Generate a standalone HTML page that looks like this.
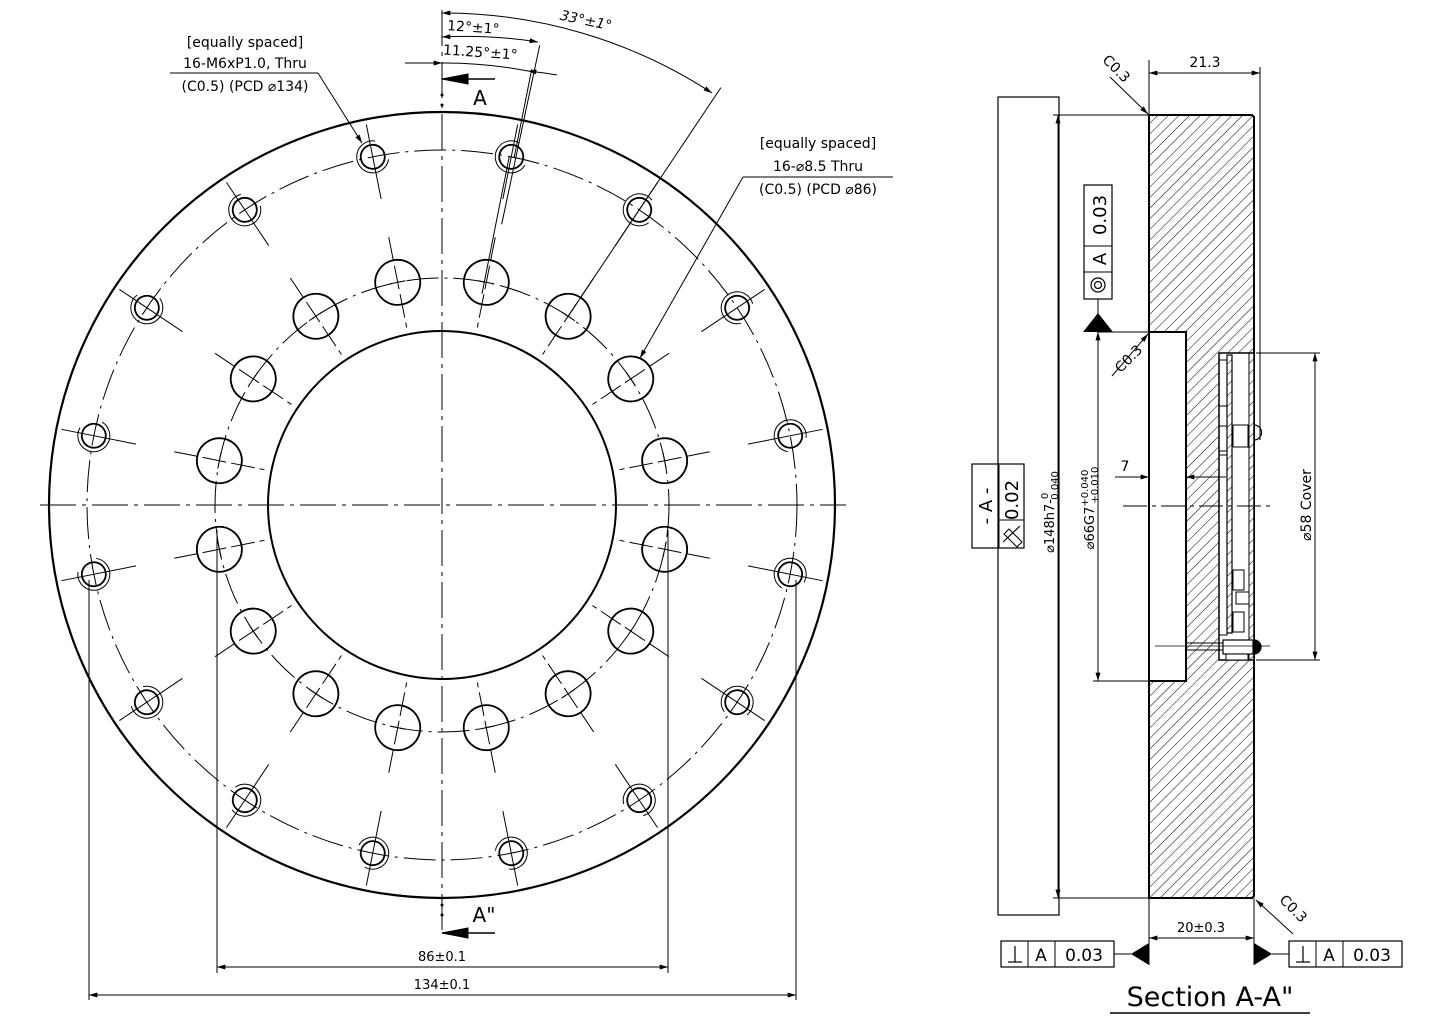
<!DOCTYPE html>
<html><head><meta charset="utf-8"><style>
html,body{margin:0;padding:0;background:#fff}
svg{display:block}
text{font-family:"DejaVu Sans","Liberation Sans",sans-serif;fill:#000}
</style></head><body>
<svg width="1437" height="1019" viewBox="0 0 1437 1019" xmlns="http://www.w3.org/2000/svg">
<defs>
<pattern id="h" patternUnits="userSpaceOnUse" width="7.5" height="7.5" patternTransform="rotate(45)">
<line x1="0" y1="0" x2="0" y2="7.5" stroke="#000" stroke-width="1"/>
</pattern>
<marker id="ar" viewBox="0 0 10 6" refX="10" refY="3" markerWidth="14" markerHeight="5" markerUnits="userSpaceOnUse" orient="auto-start-reverse"><path d="M0,0 L10,3 L0,6z" fill="#000"/></marker>
<g id="sh">
<circle cx="442" cy="150" r="12" fill="none" stroke="#000" stroke-width="1.8"/>
<circle cx="442" cy="150" r="16" fill="none" stroke="#000" stroke-width="1" stroke-dasharray="75 25.5" transform="rotate(20 442 150)"/>
<line x1="442" y1="117" x2="442" y2="193" stroke="#000" stroke-width="1"/>
</g>
<g id="bh">
<circle cx="442" cy="278" r="22.5" fill="none" stroke="#000" stroke-width="1.8"/>
<line x1="442" y1="232" x2="442" y2="324" stroke="#000" stroke-width="1" stroke-dasharray="24 5"/>
<line x1="434" y1="278" x2="450" y2="278" stroke="#000" stroke-width="1"/>
</g>
</defs>

<!-- ===== FRONT VIEW ===== -->
<g fill="none" stroke="#000">
<circle cx="442" cy="505" r="393" stroke-width="2.2"/>
<circle cx="442" cy="505" r="174" stroke-width="2"/>
<circle cx="442" cy="505" r="355" stroke-width="1" stroke-dasharray="32 6 3 6"/>
<circle cx="442" cy="505" r="227" stroke-width="1" stroke-dasharray="32 6 3 6"/>
<line x1="40" y1="505" x2="846" y2="505" stroke-width="1" stroke-dasharray="36 6 4 6"/>
<line x1="442" y1="10" x2="442" y2="930" stroke-width="1" stroke-dasharray="36 6 4 6"/>
</g>
<g>
<use href="#sh" transform="rotate(11.25 442 505)"/><use href="#sh" transform="rotate(33.75 442 505)"/>
<use href="#sh" transform="rotate(56.25 442 505)"/><use href="#sh" transform="rotate(78.75 442 505)"/>
<use href="#sh" transform="rotate(101.25 442 505)"/><use href="#sh" transform="rotate(123.75 442 505)"/>
<use href="#sh" transform="rotate(146.25 442 505)"/><use href="#sh" transform="rotate(168.75 442 505)"/>
<use href="#sh" transform="rotate(191.25 442 505)"/><use href="#sh" transform="rotate(213.75 442 505)"/>
<use href="#sh" transform="rotate(236.25 442 505)"/><use href="#sh" transform="rotate(258.75 442 505)"/>
<use href="#sh" transform="rotate(281.25 442 505)"/><use href="#sh" transform="rotate(303.75 442 505)"/>
<use href="#sh" transform="rotate(326.25 442 505)"/><use href="#sh" transform="rotate(348.75 442 505)"/>
<use href="#bh" transform="rotate(11.25 442 505)"/><use href="#bh" transform="rotate(33.75 442 505)"/>
<use href="#bh" transform="rotate(56.25 442 505)"/><use href="#bh" transform="rotate(78.75 442 505)"/>
<use href="#bh" transform="rotate(101.25 442 505)"/><use href="#bh" transform="rotate(123.75 442 505)"/>
<use href="#bh" transform="rotate(146.25 442 505)"/><use href="#bh" transform="rotate(168.75 442 505)"/>
<use href="#bh" transform="rotate(191.25 442 505)"/><use href="#bh" transform="rotate(213.75 442 505)"/>
<use href="#bh" transform="rotate(236.25 442 505)"/><use href="#bh" transform="rotate(258.75 442 505)"/>
<use href="#bh" transform="rotate(281.25 442 505)"/><use href="#bh" transform="rotate(303.75 442 505)"/>
<use href="#bh" transform="rotate(326.25 442 505)"/><use href="#bh" transform="rotate(348.75 442 505)"/>
</g>

<g stroke="#000" stroke-width="1" fill="none">
<line transform="rotate(12 442 505)" x1="442" y1="218" x2="442" y2="35"/>
<line transform="rotate(11.25 442 505)" x1="445" y1="150" x2="445" y2="60"/>
<line transform="rotate(11.25 442 505)" x1="440" y1="290" x2="440" y2="150"/>
<line transform="rotate(33.75 442 505)" x1="442" y1="280" x2="442" y2="3"/>
<path d="M442,13 A492,492 0 0 1 712,93" marker-start="url(#ar)" marker-end="url(#ar)"/>
<path d="M442,37 A468,468 0 0 1 538,42" marker-start="url(#ar)" marker-end="url(#ar)"/>
<path d="M405,63 L442,63" marker-end="url(#ar)"/>
<path d="M557,75 A442,442 0 0 0 528,71" marker-end="url(#ar)"/>
<path d="M442,63 A442,442 0 0 1 528,71"/>
<line x1="442" y1="79" x2="495" y2="79" stroke-width="1.5"/>
<path d="M442,79 L468,74 L468,84z" fill="#000"/>
<line x1="442" y1="933" x2="495" y2="933" stroke-width="1.5"/>
<path d="M442,933 L468,928 L468,938z" fill="#000"/>
<line x1="170" y1="73" x2="318" y2="73"/>
<line x1="318" y1="73" x2="362" y2="143" marker-end="url(#ar)"/>
<line x1="743" y1="177" x2="893" y2="177"/>
<line x1="743" y1="177" x2="640" y2="358" marker-end="url(#ar)"/>
<line x1="217" y1="530" x2="217" y2="973"/>
<line x1="668" y1="530" x2="668" y2="973"/>
<line x1="89" y1="580" x2="89" y2="1000"/>
<line x1="796" y1="580" x2="796" y2="1000"/>
<line x1="217" y1="967" x2="668" y2="967" marker-start="url(#ar)" marker-end="url(#ar)"/>
<line x1="89" y1="995" x2="796" y2="995" marker-start="url(#ar)" marker-end="url(#ar)"/>
</g>
<circle cx="442" cy="95" r="1.5"/><circle cx="442" cy="105" r="1.5"/>
<circle cx="442" cy="905" r="1.5"/><circle cx="442" cy="915" r="1.5"/>
<text x="480" y="105" font-size="20" text-anchor="middle">A</text>
<text x="484" y="922" font-size="20" text-anchor="middle">A"</text>
<text x="473" y="32" font-size="14" transform="rotate(4 473 32)" text-anchor="middle">12°±1°</text>
<text x="480" y="57" font-size="14" transform="rotate(4 480 57)" text-anchor="middle">11.25°±1°</text>
<text x="585" y="25" font-size="14" font-style="italic" transform="rotate(12 585 25)" text-anchor="middle">33°±1°</text>
<g font-size="14" text-anchor="middle">
<text x="245" y="47">[equally spaced]</text>
<text x="245" y="68">16-M6xP1.0, Thru</text>
<text x="245" y="91">(C0.5) (PCD ⌀134)</text>
<text x="818" y="148">[equally spaced]</text>
<text x="818" y="171">16-⌀8.5 Thru</text>
<text x="818" y="194">(C0.5) (PCD ⌀86)</text>
<text x="442" y="961" font-size="13">86±0.1</text>
<text x="442" y="989" font-size="13">134±0.1</text>
</g>

<!-- ===== SECTION VIEW ===== -->
<path d="M1149,115 H1254 V898 H1149Z M1149,332 H1186 V681 H1149Z M1219,353 H1249 V660 H1219Z" fill="url(#h)" fill-rule="evenodd"/>
<g fill="none" stroke="#000">
<rect x="998" y="97" width="61" height="818" stroke-width="1.2"/>
<path d="M1149,115 H1252 L1254,117 V896 L1252,898 H1149 Z" stroke-width="2"/>
<path d="M1149,332 H1186 V681 H1149" stroke-width="2"/>
<rect x="1219" y="353" width="35" height="307" stroke-width="1.5" fill="#fff"/>
<rect x="1227" y="355" width="5" height="278" stroke-width="1.2" fill="url(#h)"/>
<rect x="1219" y="360" width="8" height="275" stroke-width="1"/>
<rect x="1249" y="353" width="5" height="307" fill="url(#h)" stroke-width="1"/>
<rect x="1233" y="425" width="15" height="22" stroke-width="1"/>
<line x1="1219" y1="406" x2="1227" y2="406"/><line x1="1219" y1="426" x2="1227" y2="426"/>
<line x1="1219" y1="451" x2="1227" y2="451"/><line x1="1219" y1="455" x2="1227" y2="455"/>
<rect x="1233" y="570" width="11" height="20" stroke-width="1"/>
<rect x="1236" y="592" width="13" height="12" stroke-width="1"/>
<rect x="1233" y="612" width="11" height="20" stroke-width="1"/>
<path d="M1254,425 A7,7 0 0 1 1254,440" stroke-width="1.2"/>
<path d="M1254,640 A7,7 0 0 1 1254,654" stroke-width="1.2" fill="#000"/>
<rect x="1223" y="640" width="30" height="14" fill="#fff" stroke-width="1.2"/>
<rect x="1226" y="654" width="22" height="6" fill="#fff" stroke-width="1"/>
<line x1="1186" y1="643" x2="1223" y2="643"/><line x1="1186" y1="650" x2="1223" y2="650"/>
<line x1="1155" y1="646" x2="1270" y2="646" stroke-width="0.8"/>
<line x1="1123" y1="506" x2="1275" y2="506" stroke-width="1" stroke-dasharray="24 5 4 5"/>
<line x1="1149" y1="60" x2="1149" y2="115"/>
<line x1="1260" y1="67" x2="1260" y2="440"/>
<line x1="1149" y1="73" x2="1260" y2="73" marker-start="url(#ar)" marker-end="url(#ar)"/>
<line x1="1053" y1="115" x2="1149" y2="115"/>
<line x1="1053" y1="898" x2="1149" y2="898"/>
<line x1="1058" y1="115" x2="1058" y2="898" marker-start="url(#ar)" marker-end="url(#ar)"/>
<line x1="1093" y1="681" x2="1149" y2="681"/>
<line x1="1098" y1="332" x2="1098" y2="681" marker-start="url(#ar)" marker-end="url(#ar)"/>
<line x1="1098" y1="332" x2="1149" y2="332"/>
<line x1="1098" y1="299" x2="1098" y2="315"/>
<line x1="1115" y1="477" x2="1149" y2="477" marker-end="url(#ar)"/>
<line x1="1226" y1="477" x2="1186" y2="477" marker-end="url(#ar)"/>
<line x1="1256" y1="353" x2="1320" y2="353"/>
<line x1="1256" y1="660" x2="1320" y2="660"/>
<line x1="1315" y1="353" x2="1315" y2="660" marker-start="url(#ar)" marker-end="url(#ar)"/>
<line x1="1149" y1="898" x2="1149" y2="965"/>
<line x1="1254" y1="898" x2="1254" y2="965"/>
<line x1="1149" y1="938" x2="1254" y2="938" marker-start="url(#ar)" marker-end="url(#ar)"/>
<line x1="1110" y1="77" x2="1148" y2="114" marker-end="url(#ar)"/>
<line x1="1112" y1="376" x2="1148" y2="334" marker-end="url(#ar)"/>
<line x1="1293" y1="934" x2="1256" y2="900" marker-end="url(#ar)"/>
<rect x="1084" y="185" width="28" height="114" stroke-width="1.2"/>
<line x1="1084" y1="246" x2="1112" y2="246"/><line x1="1084" y1="272" x2="1112" y2="272"/>
<circle cx="1098" cy="285" r="7" stroke-width="1.2"/><circle cx="1098" cy="285" r="3.5" stroke-width="1.2"/>
<rect x="972" y="464" width="52" height="84" stroke-width="1.2"/>
<line x1="999" y1="464" x2="999" y2="548"/><line x1="999" y1="520" x2="1024" y2="520"/>
<rect x="1001" y="941" width="113" height="26" stroke-width="1.2"/>
<line x1="1028" y1="941" x2="1028" y2="967"/><line x1="1055" y1="941" x2="1055" y2="967"/>
<rect x="1289" y="941" width="113" height="26" stroke-width="1.2"/>
<line x1="1316" y1="941" x2="1316" y2="967"/><line x1="1343" y1="941" x2="1343" y2="967"/>
<line x1="1114" y1="954" x2="1131" y2="954"/>
<line x1="1272" y1="954" x2="1289" y2="954"/>
<line x1="1110" y1="1013" x2="1310" y2="1013" stroke-width="1.5"/>
<line x1="1008" y1="962" x2="1022" y2="962" stroke-width="1.2"/><line x1="1015" y1="946" x2="1015" y2="962" stroke-width="1.2"/>
<line x1="1296" y1="962" x2="1310" y2="962" stroke-width="1.2"/><line x1="1303" y1="946" x2="1303" y2="962" stroke-width="1.2"/>
<line x1="1003" y1="542" x2="1020" y2="526" stroke-width="1.2"/>
<path d="M1004,534 l5,-5 l13,13 l-5,5z" stroke-width="1"/>
</g>
<path d="M1098,313 L1113,332 L1083,332z" fill="#000"/>
<path d="M1131,954 L1149,943 L1149,965z" fill="#000"/>
<path d="M1272,954 L1254,943 L1254,965z" fill="#000"/>
<g font-size="14">
<text x="1205" y="67" text-anchor="middle">21.3</text>
<text x="1125" y="471" text-anchor="middle">7</text>
<text x="1201" y="932" text-anchor="middle" font-size="13">20±0.3</text>
<text transform="translate(1113,72) rotate(45)" text-anchor="middle">C0.3</text>
<text transform="translate(1132,362) rotate(-45)" text-anchor="middle">C0.3</text>
<text transform="translate(1290,912) rotate(45)" text-anchor="middle">C0.3</text>
<text transform="translate(1311,505) rotate(-90)" text-anchor="middle">⌀58 Cover</text>
<text transform="translate(1054,512) rotate(-90)" text-anchor="middle" font-size="13">⌀148h7-<tspan font-size="10" dy="-6">0</tspan><tspan font-size="10" dx="-7" dy="10">0.040</tspan></text>
<text transform="translate(1094,508) rotate(-90)" text-anchor="middle" font-size="13">⌀66G7<tspan font-size="10" dy="-6">+0.040</tspan><tspan font-size="10" dx="-34" dy="10">+0.010</tspan></text>
<text transform="translate(1106,215) rotate(-90)" text-anchor="middle" font-size="18">0.03</text>
<text transform="translate(1106,259) rotate(-90)" text-anchor="middle" font-size="18">A</text>
<text transform="translate(992,506) rotate(-90)" text-anchor="middle" font-size="18">- A -</text>
<text transform="translate(1018,500) rotate(-90)" text-anchor="middle" font-size="18">0.02</text>
<text x="1041" y="961" text-anchor="middle" font-size="17">A</text>
<text x="1084" y="961" text-anchor="middle" font-size="17">0.03</text>
<text x="1329" y="961" text-anchor="middle" font-size="17">A</text>
<text x="1372" y="961" text-anchor="middle" font-size="17">0.03</text>
<text x="1210" y="1006" text-anchor="middle" font-size="27">Section A-A"</text>
</g>
</svg>
</body></html>
